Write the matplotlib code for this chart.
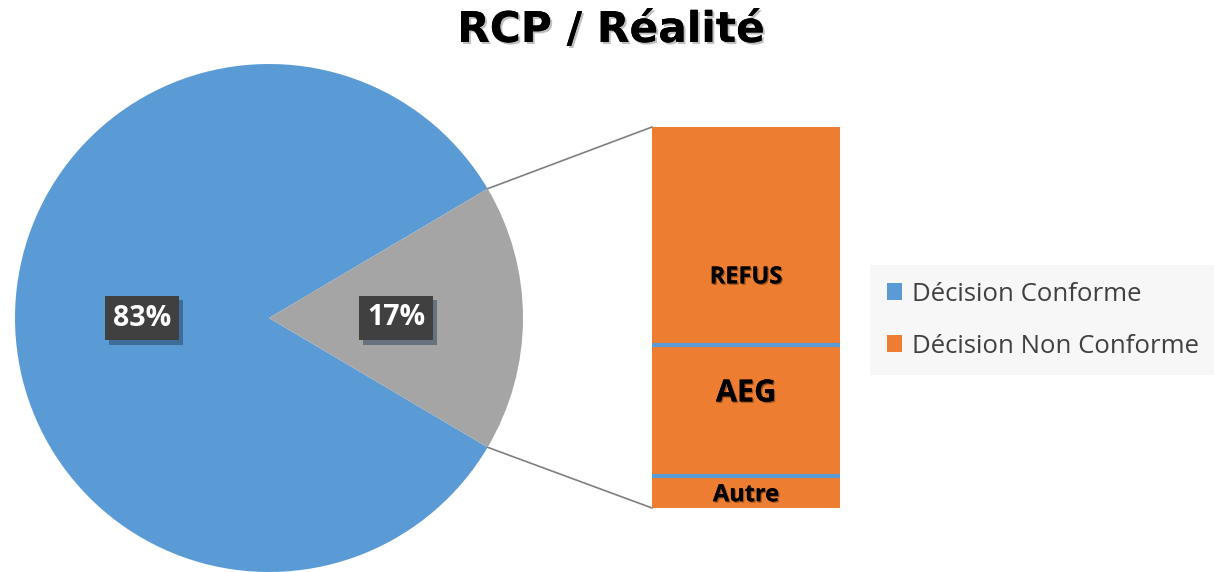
import numpy as np
import matplotlib
matplotlib.use("Agg")
import matplotlib.pyplot as plt
from matplotlib.patches import ConnectionPatch
import matplotlib.patheffects as pe

# pie data
pie_labels = ["Décision Conforme", "Décision Non Conforme"]
pie_values = [83, 17]
pie_colors = ["#5B9BD5", "#A5A5A5"]

# breakdown of the "non conforme" slice (bottom to top)
bar_labels = ["Autre", "AEG", "REFUS"]
bar_values = [8.4, 34.4, 57.2]
bar_label_frac = [0.40, 0.63, 0.31]   # where the text sits inside each segment
bar_label_size = [17, 22, 17]
bar_color = "#ED7D31"

FONT = ["Open Sans", "DejaVu Sans"]

fig = plt.figure(figsize=(12.14, 5.72), dpi=100)
fig.patch.set_facecolor("white")

# pie (left)
ax_pie = fig.add_axes([15 / 1214, 0.0, 508 / 1214, 508 / 572])
start = pie_values[1] / 2 * 3.6
wedges, _ = ax_pie.pie(pie_values, colors=pie_colors, startangle=start,
                       counterclock=True, radius=1,
                       wedgeprops=dict(linewidth=0))
ax_pie.set_aspect("equal")
ax_pie.set_xlim(-1, 1)
ax_pie.set_ylim(-1, 1)
ax_pie.axis("off")

shadow = [pe.withSimplePatchShadow(offset=(3, -3), shadow_rgbFace="#1f3550", alpha=0.45)]
total = sum(pie_values)
for w, v in zip(wedges, pie_values):
    mid = np.deg2rad((w.theta1 + w.theta2) / 2)
    t = ax_pie.text(0.5 * np.cos(mid), 0.5 * np.sin(mid), f"{v / total * 100:.0f}%",
                    ha="center", va="center", color="white", fontsize=20.5,
                    fontweight="bold", family=FONT,
                    bbox=dict(boxstyle="square,pad=0.28", fc="#404040", ec="none"))
    t.get_bbox_patch().set_path_effects(shadow)

# stacked bar (right)
ax_bar = fig.add_axes([652 / 1214, 64 / 572, 188 / 1214, 381 / 572])
bottom = 0
bounds = []
for lab, v, fr, fs in zip(bar_labels, bar_values, bar_label_frac, bar_label_size):
    ax_bar.bar(0, v, bottom=bottom, width=1, color=bar_color, linewidth=0)
    ax_bar.text(0, bottom + v * fr, lab, ha="center", va="center", fontsize=fs,
                fontweight="bold", color="black", family=FONT,
                path_effects=[pe.withSimplePatchShadow(offset=(1, -1), alpha=0.35),
                              pe.Normal()])
    bottom += v
    bounds.append(bottom)
for b in bounds[:-1]:
    ax_bar.axhline(b, color="#5B9BD5", linewidth=3)
ax_bar.set_xlim(-0.5, 0.5)
ax_bar.set_ylim(0, sum(bar_values))
ax_bar.axis("off")

# connection lines
gray_w = wedges[1]
for ang, yb in [(gray_w.theta2, sum(bar_values)), (gray_w.theta1, 0)]:
    a = np.deg2rad(ang)
    con = ConnectionPatch(xyA=(np.cos(a), np.sin(a)), coordsA=ax_pie.transData,
                          xyB=(-0.5, yb), coordsB=ax_bar.transData,
                          color="#7f7f7f", linewidth=1.2)
    fig.add_artist(con)

# legend
leg = fig.legend(wedges, pie_labels, loc="upper left",
                 bbox_to_anchor=(870 / 1214, 1 - 265 / 572), frameon=True,
                 prop=dict(family=FONT, size=18.5),
                 handlelength=0.6, handleheight=0.6, handletextpad=0.4,
                 labelspacing=1.05, borderpad=0.65, borderaxespad=0,
                 labelcolor="#404040", fancybox=False)
leg.get_frame().set_facecolor("#f7f7f7")
leg.get_frame().set_edgecolor("none")
leg.get_frame().set_alpha(1)
leg.legend_handles[1].set_facecolor(bar_color)

fig.text(611 / 1214, 1 - 42 / 572, "RCP / Réalité", ha="center", va="baseline",
         fontsize=30.5, fontweight="bold", family=["DejaVu Sans"],
         path_effects=[pe.withSimplePatchShadow(offset=(1.5, -1.5), alpha=0.25),
                       pe.Normal()])

fig.savefig("out.png", dpi=100, facecolor="white")
